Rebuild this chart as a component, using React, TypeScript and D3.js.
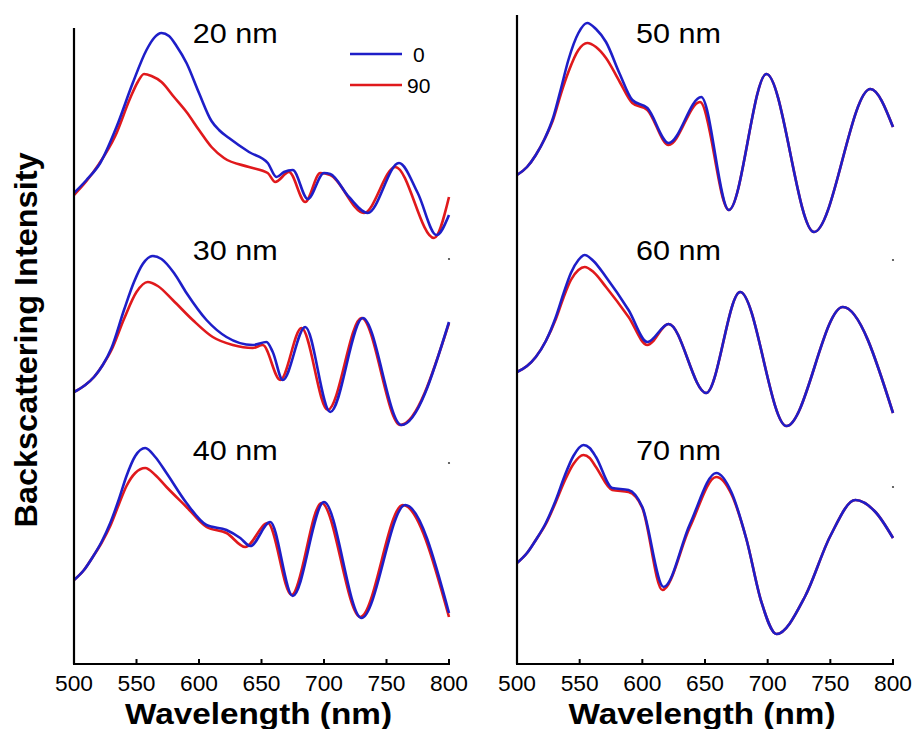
import React from "react";
import * as d3 from "d3";

// wavelength (nm), intensity (a.u.) pairs
const nm20_0: [number, number][] = [[500,471],[510,484],[521,501],[534,537],[547,581],[558,614],[564,626],[570,631],[576,628],[582,618],[590,601],[600,571],[610,543],[616,534],[624,526],[640,512],[655,501],[662,487],[668,492],[675,494],[687,465],[700,491],[705,490],[720,467],[735,451],[760,501],[775,471],[790,429],[800,449]];
const nm20_90: [number, number][] = [[500,469],[510,483],[520,500],[533,528],[545,566],[551,582],[556,590],[562,588],[570,582],[580,567],[590,552],[600,534],[610,517],[620,506],[640,497],[655,491],[661,482],[672,492],[685,462],[697,491],[705,489],[732,451],[757,497],[788,426],[800,467]];
const nm30_0: [number, number][] = [[500,272],[509,279],[516,287],[523,299],[530,316],[540,354],[548,382],[555,400],[563,408],[570,405],[580,391],[590,371],[606,344],[622,327],[643,319],[654,322],[659,312],[667,284],[685,337],[705,252],[731,346],[762,239],[800,342]];
const nm30_90: [number, number][] = [[500,272],[509,279],[516,287],[523,299],[530,314],[540,345],[550,372],[559,382],[567,378],[579,364],[595,344],[611,327],[627,319],[643,316],[651,319],[665,284],[682,336],[703,254],[730,346],[761,239],[800,341]];
const nm40_0: [number, number][] = [[500,84],[508,94],[515,107],[522,122],[529,141],[536,165],[542,188],[549,208],[557,216],[565,207],[574,191],[590,161],[606,139],[622,134],[633,126],[641,118],[657,142],[675,68],[700,162],[730,46],[765,159],[800,51]];
const nm40_90: [number, number][] = [[500,84],[508,94],[515,107],[522,121],[529,138],[536,160],[542,178],[549,191],[557,196],[565,189],[574,177],[590,157],[606,137],[622,131],[637,117],[655,141],[674,69],[698,161],[729,47],[763,159],[800,47]];
const nm50_0: [number, number][] = [[500,489],[508,497],[515,509],[522,525],[529,547],[535,575],[541,604],[549,631],[556,641],[563,635],[571,622],[582,590],[592,564],[604,556],[621,521],[647,567],[669,454],[699,590],[737,432],[782,575],[800,537]];
const nm50_90: [number, number][] = [[500,489],[508,497],[515,509],[522,525],[529,545],[535,570],[541,592],[549,614],[556,621],[563,617],[571,606],[582,582],[592,561],[604,554],[621,519],[646,562],[669,454],[699,590],[737,432],[782,575],[800,537]];
const nm60_0: [number, number][] = [[500,292],[508,298],[515,307],[523,323],[531,347],[537,370],[543,391],[549,404],[554,409],[561,403],[571,387],[589,354],[604,322],[621,340],[651,271],[678,372],[715,238],[760,357],[800,251]];
const nm60_90: [number, number][] = [[500,292],[508,298],[515,307],[523,323],[531,345],[537,366],[543,384],[549,394],[554,397],[561,392],[571,377],[589,347],[604,319],[621,340],[651,271],[678,372],[715,238],[760,357],[800,251]];
const nm70_0: [number, number][] = [[500,101],[508,111],[515,124],[523,141],[531,164],[538,188],[545,208],[553,219],[558,216],[563,207],[576,176],[589,174],[600,157],[617,77],[638,140],[659,191],[671,172],[683,125],[695,62],[707,30],[730,68],[750,128],[770,164],[786,152],[800,126]];
const nm70_90: [number, number][] = [[500,101],[508,111],[515,124],[523,140],[531,162],[538,183],[545,200],[553,209],[558,206],[563,197],[576,174],[589,172],[600,156],[616,74],[638,137],[659,187],[671,170],[683,125],[695,62],[707,30],[730,68],[750,128],[770,164],[786,152],[800,126]];

const leftLabels = ["20 nm", "30 nm", "40 nm"];
const rightLabels = ["50 nm", "60 nm", "70 nm"];
const xTicks = [500, 550, 600, 650, 700, 750, 800];
const legendNames = ["0", "90"];
const leftDots = [405, 201];
const rightDots = [404, 177];

const BLUE = "#1e1ec8";
const RED = "#e0191c";

type Panel = {
  x0: number; x1: number; top: number; ymax: number;
  series: [number, number][][][]; labels: string[]; labelY: number[]; dots: number[];
};

const BOTTOM = 664;

const panels: Panel[] = [
  { x0: 74, x1: 449, top: 28, ymax: 636, series: [[nm20_0, nm20_90], [nm30_0, nm30_90], [nm40_0, nm40_90]], labels: leftLabels, labelY: [43, 260, 460], dots: leftDots },
  { x0: 517, x1: 893, top: 15, ymax: 649, series: [[nm50_0, nm50_90], [nm60_0, nm60_90], [nm70_0, nm70_90]], labels: rightLabels, labelY: [43, 260, 460], dots: rightDots },
];

const FONT = "'Liberation Sans', Arial, sans-serif";

function PanelView({ p, legend }: { p: Panel; legend: boolean }) {
  const x = d3.scaleLinear().domain([500, 800]).range([p.x0, p.x1]);
  const y = d3.scaleLinear().domain([0, p.ymax]).range([BOTTOM, p.top]);
  const line = d3.line<[number, number]>().x((d) => x(d[0])).y((d) => y(d[1])).curve(d3.curveMonotoneX);
  const labelX = x(595);
  return (
    <g>
      {p.series.map((pair, i) => (
        <g key={i}>
          <path d={line(pair[1]) || ""} fill="none" stroke={RED} strokeWidth={2.6} strokeLinejoin="round" />
          <path d={line(pair[0]) || ""} fill="none" stroke={BLUE} strokeWidth={2.6} strokeLinejoin="round" />
          <text x={labelX} y={p.labelY[i]} fontFamily={FONT} fontSize={28} fill="#000" textLength={85} lengthAdjust="spacingAndGlyphs">{p.labels[i]}</text>
        </g>
      ))}
      {p.dots.map((v, i) => (
        <circle key={i} cx={x(800)} cy={y(v)} r={1.1} fill="#444" />
      ))}
      <line x1={p.x0} x2={p.x0} y1={p.top} y2={BOTTOM} stroke="#000" strokeWidth={2.2} />
      <line x1={p.x0 - 1} x2={p.x1 + 1} y1={BOTTOM} y2={BOTTOM} stroke="#000" strokeWidth={2.2} />
      {xTicks.map((t) => (
        <g key={t}>
          <line x1={x(t)} x2={x(t)} y1={BOTTOM} y2={BOTTOM - 5} stroke="#000" strokeWidth={2} />
          <text x={x(t)} y={691} textAnchor="middle" fontFamily={FONT} fontSize={22} fill="#000" textLength={38} lengthAdjust="spacingAndGlyphs">{t}</text>
        </g>
      ))}
      <text x={(p.x0 + p.x1) / 2 - 3} y={724} textAnchor="middle" fontFamily={FONT} fontWeight="bold" fontSize={30} fill="#000" textLength={267} lengthAdjust="spacingAndGlyphs">Wavelength (nm)</text>
      {legend && (
        <g>
          <line x1={350} x2={402} y1={54} y2={54} stroke={BLUE} strokeWidth={2.4} />
          <line x1={350} x2={402} y1={85} y2={85} stroke={RED} strokeWidth={2.4} />
          <text x={413} y={62} fontFamily={FONT} fontSize={21} fill="#000">{legendNames[0]}</text>
          <text x={407} y={93} fontFamily={FONT} fontSize={21} fill="#000">{legendNames[1]}</text>
        </g>
      )}
    </g>
  );
}

export default function App() {
  return (
    <svg width={916} height={729} style={{ position: "absolute", left: 0, top: 0, background: "#fff" }}>
      <rect width={916} height={729} fill="#fff" />
      {panels.map((p, i) => (
        <PanelView key={i} p={p} legend={i === 0} />
      ))}
      <text transform="translate(37,340) rotate(-90)" textAnchor="middle" fontFamily={FONT} fontWeight="bold" fontSize={31} fill="#000" textLength={375} lengthAdjust="spacingAndGlyphs">Backscattering Intensity</text>
    </svg>
  );
}
